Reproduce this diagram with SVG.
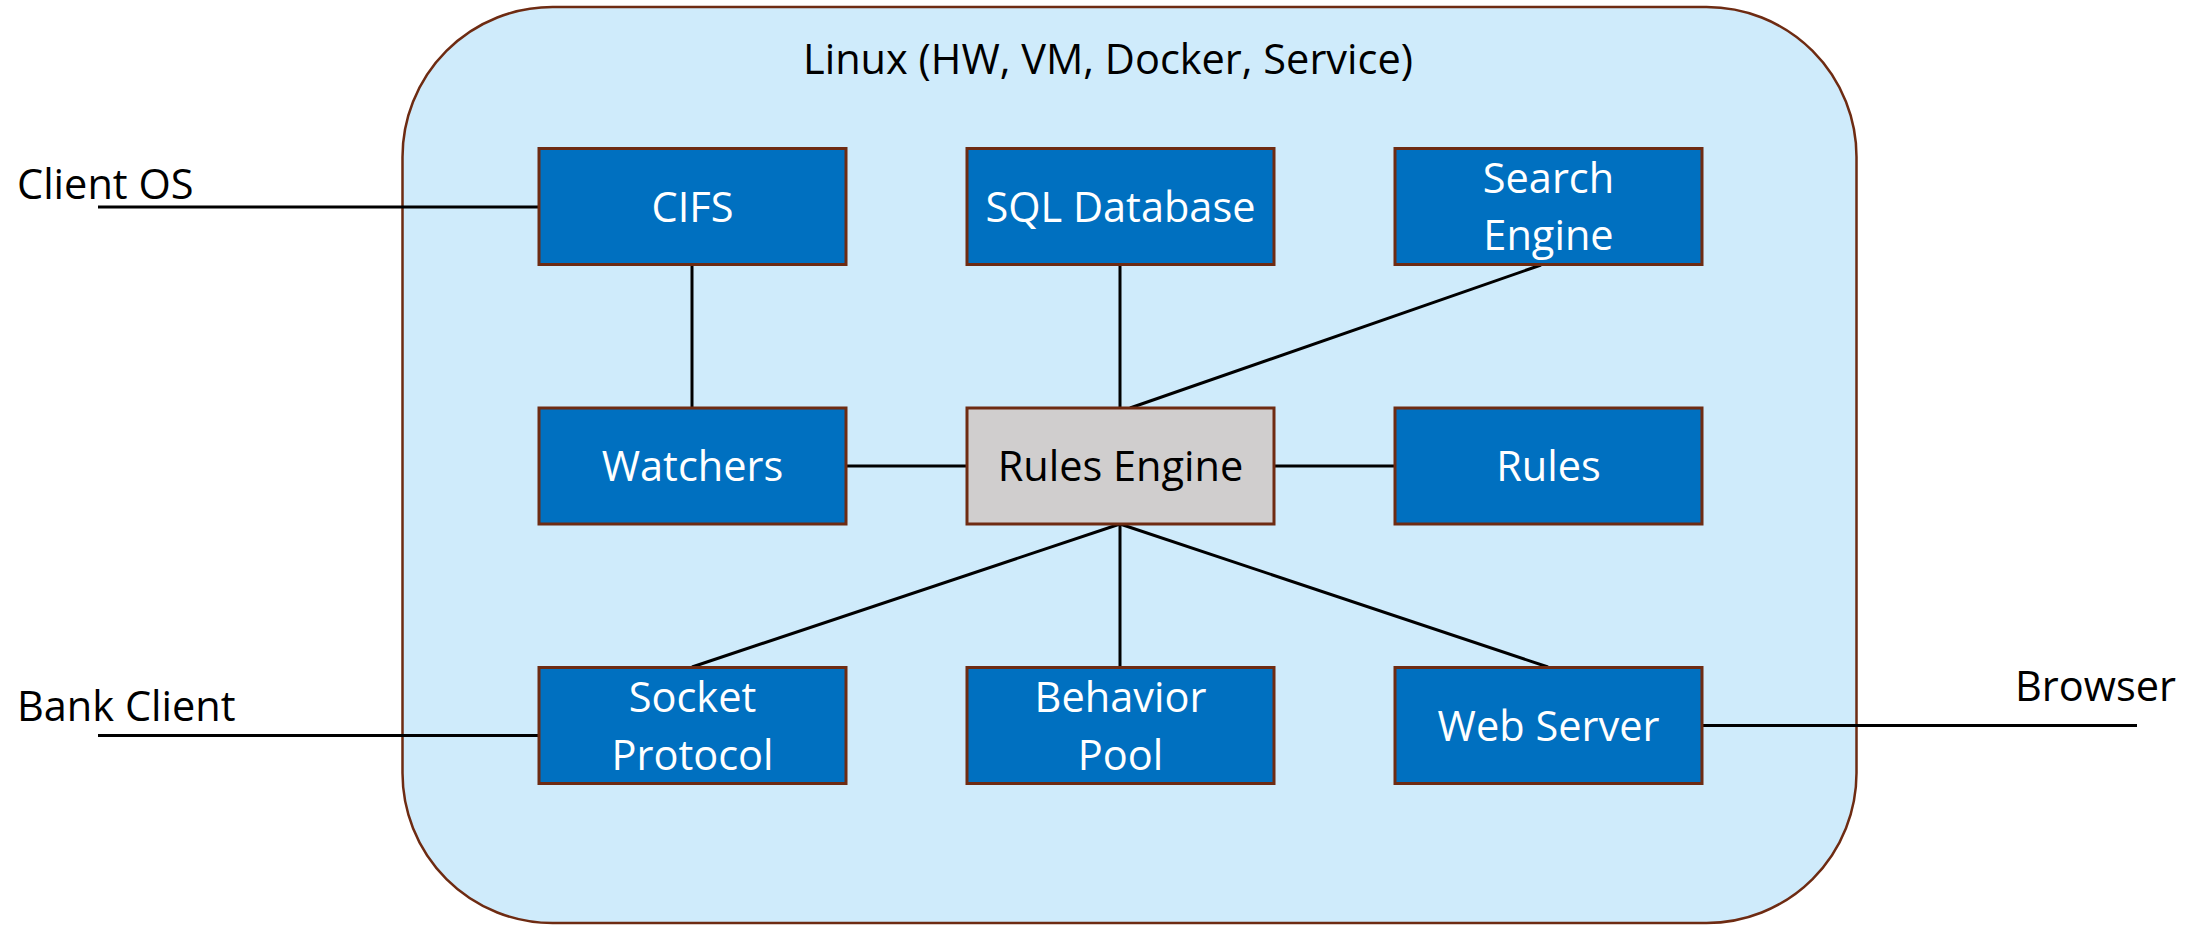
<svg xmlns="http://www.w3.org/2000/svg" width="2205" height="925" viewBox="0 0 2205 925">
  <style>
    .frame { fill: #CFEBFB; stroke: #6E2B12; stroke-width: 2.5; }
    .box { fill: #0070C0; stroke: #6E2B12; stroke-width: 3; }
    .core { fill: #D0CECE; stroke: #6E2B12; stroke-width: 3; }
    .wire { stroke: #000; stroke-width: 3; fill: none; stroke-linecap: butt; }
    text { font-family: "Open Sans", "Noto Sans", "Liberation Sans", sans-serif; font-size: 41.5px; }
    .in { fill: #FFFFFF; text-anchor: middle; }
    .dark { fill: #000000; text-anchor: middle; }
    .ext { fill: #000000; }
  </style>

  <!-- host environment -->
  <g id="linux-host">
    <rect class="frame" x="402.5" y="7" width="1454" height="916" rx="150" ry="150"/>
    <text class="dark" x="1108" y="74">Linux (HW, VM, Docker, Service)</text>
  </g>

  <!-- connectors -->
  <g id="connectors">
    <line class="wire" x1="98" y1="207" x2="539" y2="207"/>
    <line class="wire" x1="98" y1="735.5" x2="539" y2="735.5"/>
    <line class="wire" x1="1700" y1="725.5" x2="2137" y2="725.5"/>
    <line class="wire" x1="692" y1="265" x2="692" y2="408"/>
    <line class="wire" x1="846" y1="466" x2="967" y2="466"/>
    <line class="wire" x1="1274" y1="466" x2="1395" y2="466"/>
    <line class="wire" x1="1120" y1="265" x2="1120" y2="408"/>
    <line class="wire" x1="1541" y1="265" x2="1130" y2="408"/>
    <line class="wire" x1="1120" y1="524" x2="692" y2="667"/>
    <line class="wire" x1="1120" y1="524" x2="1120" y2="667"/>
    <line class="wire" x1="1120" y1="524" x2="1548" y2="667"/>
  </g>

  <!-- external endpoints -->
  <g id="client-os"><text class="ext" x="17" y="199">Client OS</text></g>
  <g id="bank-client"><text class="ext" x="17" y="721">Bank Client</text></g>
  <g id="browser"><text class="ext" x="2015" y="701">Browser</text></g>

  <!-- top row -->
  <g id="cifs">
    <rect class="box" x="539" y="148.5" width="307" height="116"/>
    <text class="in" x="692.5" y="222">CIFS</text>
  </g>
  <g id="sql-database">
    <rect class="box" x="967" y="148.5" width="307" height="116"/>
    <text class="in" x="1120.5" y="222">SQL Database</text>
  </g>
  <g id="search-engine">
    <rect class="box" x="1395" y="148.5" width="307" height="116"/>
    <text class="in" x="1548.5" y="193">Search</text>
    <text class="in" x="1548.5" y="250">Engine</text>
  </g>

  <!-- middle row -->
  <g id="watchers">
    <rect class="box" x="539" y="408" width="307" height="116"/>
    <text class="in" x="692.5" y="481">Watchers</text>
  </g>
  <g id="rules-engine">
    <rect class="core" x="967" y="408" width="307" height="116"/>
    <text class="dark" x="1120.5" y="481">Rules Engine</text>
  </g>
  <g id="rules">
    <rect class="box" x="1395" y="408" width="307" height="116"/>
    <text class="in" x="1548.5" y="481">Rules</text>
  </g>

  <!-- bottom row -->
  <g id="socket-protocol">
    <rect class="box" x="539" y="667.5" width="307" height="116"/>
    <text class="in" x="692.5" y="712">Socket</text>
    <text class="in" x="692.5" y="770">Protocol</text>
  </g>
  <g id="behavior-pool">
    <rect class="box" x="967" y="667.5" width="307" height="116"/>
    <text class="in" x="1120.5" y="712">Behavior</text>
    <text class="in" x="1120.5" y="770">Pool</text>
  </g>
  <g id="web-server">
    <rect class="box" x="1395" y="667.5" width="307" height="116"/>
    <text class="in" x="1548.5" y="741">Web Server</text>
  </g>
</svg>
